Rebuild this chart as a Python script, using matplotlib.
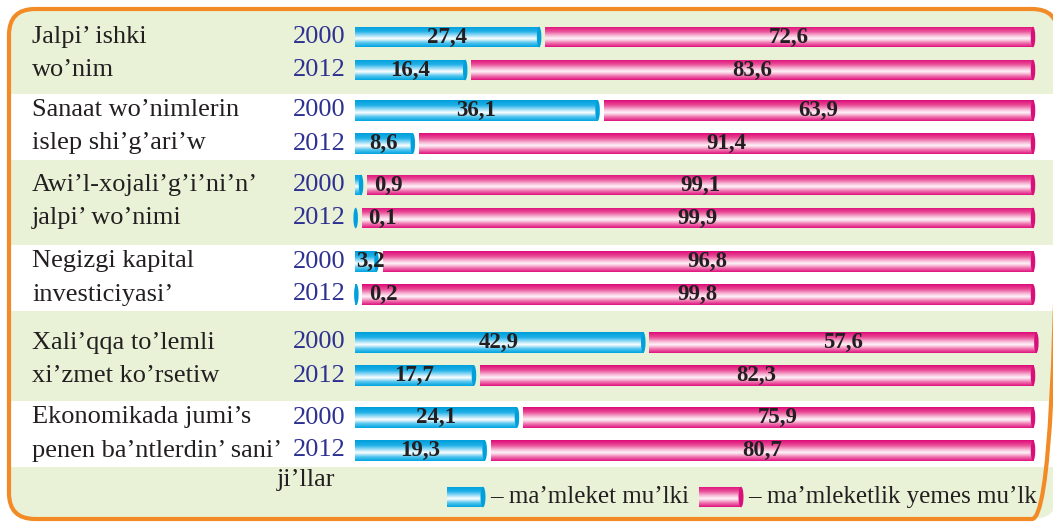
import numpy as np
import matplotlib
matplotlib.use("Agg")
import matplotlib.pyplot as plt
from matplotlib import rcParams
from matplotlib.colors import LinearSegmentedColormap
from matplotlib.patches import FancyBboxPatch, Ellipse, Rectangle

rcParams['font.family'] = ['Liberation Serif', 'DejaVu Serif']

# data
categories = [("Jalpi’ ishki", "wo’nim"),
              ("Sanaat wo’nimlerin", "islep shi’g’ari’w"),
              ("Awi’l-xojali’g’i’ni’n’", "jalpi’ wo’nimi"),
              ("Negizgi kapital", "investiciyasi’"),
              ("Xali’qqa to’lemli", "xi’zmet ko’rsetiw"),
              ("Ekonomikada jumi’s", "penen ba’ntlerdin’ sani’")]
years = ["2000", "2012"]
state_2000 = [27.4, 36.1, 0.9, 3.2, 42.9, 24.1]
state_2012 = [16.4, 8.6, 0.1, 0.2, 17.7, 19.3]
nonstate_2000 = [72.6, 63.9, 99.1, 96.8, 57.6, 75.9]
nonstate_2012 = [83.6, 91.4, 99.9, 99.8, 82.3, 80.7]
legend_labels = ["– ma’mleket mu’lki", "– ma’mleketlik yemes mu’lk"]
axis_note = "ji’llar"

# layout (pixels)
W, H = 1053, 522
row_y = [53.5, 127, 201.5, 278, 359, 434]
dy = 16.5
bar_h = 21
gap = 0.9

green = '#e9f1d6'
orange = '#f28a26'
txt = '#231f20'
year_col = '#2e3192'

blue_cmap = LinearSegmentedColormap.from_list('blue', [
    (0, '#009fdb'), (0.25, '#1fb0e7'), (0.45, '#9fdff7'), (0.6, '#ffffff'),
    (0.8, '#55c6ef'), (1, '#00a4e0')])
pink_cmap = LinearSegmentedColormap.from_list('pink', [
    (0, '#dd0b79'), (0.25, '#ea4f98'), (0.45, '#f7b9d6'), (0.6, '#fff4f9'),
    (0.8, '#f07ab3'), (1, '#df127d')])
grad = np.linspace(0, 1, 64).reshape(-1, 1)


def gradient_bars(ax, y, width, left, cmap, cap_color, cap_w):
    rects = ax.barh(y, width, left=left, height=bar_h, color='none', lw=0)
    for r in rects:
        x0, y0 = r.get_x(), r.get_y()
        x1, y1 = x0 + r.get_width(), y0 + r.get_height()
        im = ax.imshow(grad, cmap=cmap, extent=(x0, x1, y1, y0),
                       aspect='auto', interpolation='bilinear', zorder=2)
        im.set_clip_path(r)
        ax.add_patch(Ellipse((x1, (y0 + y1) / 2), cap_w, bar_h * 0.98,
                             fc=cap_color, ec='none', zorder=2.5, clip_on=False))
    return rects


fig = plt.figure(figsize=(W / 100, H / 100), dpi=100)

# background panel
bg = fig.add_axes([0, 0, 1, 1])
bg.set_xlim(0, W)
bg.set_ylim(H, 0)
bg.axis('off')
bg.add_patch(FancyBboxPatch((9, 9), 1049, 510,
                            boxstyle='round,pad=0,rounding_size=26',
                            fc=green, ec='none', zorder=0))
for i in (1, 3, 5):
    bg.add_patch(Rectangle((10, row_y[i] - 33), 1046, 66, fc='white',
                           ec='none', zorder=0.5))
bg.add_patch(FancyBboxPatch((9, 9), 1049, 510,
                            boxstyle='round,pad=0,rounding_size=26',
                            fc='none', ec=orange, lw=3, zorder=5,
                            clip_on=False))

for i, (l1, l2) in enumerate(categories):
    bg.text(32, row_y[i] - dy, l1, fontsize=19, color=txt, va='center')
    bg.text(32, row_y[i] + dy, l2, fontsize=19, color=txt, va='center')
    bg.text(346, row_y[i] - dy, years[0], fontsize=19, color=year_col,
            ha='right', va='center')
    bg.text(346, row_y[i] + dy, years[1], fontsize=19, color=year_col,
            ha='right', va='center')

bg.text(277, 480, axis_note, fontsize=19, color=txt, va='center')

# legend keys
for (x0, x1), cmap, cap, lab in zip([(447, 483), (699, 741)],
                                    [blue_cmap, pink_cmap],
                                    ['#00a0dc', '#d90f7a'], legend_labels):
    r = Rectangle((x0, 497 - bar_h / 2), x1 - x0, bar_h, fc='none', ec='none')
    bg.add_patch(r)
    im = bg.imshow(grad, cmap=cmap, extent=(x0, x1, 497 + bar_h / 2, 497 - bar_h / 2),
                   aspect='auto', interpolation='bilinear', zorder=2)
    im.set_clip_path(r)
    bg.add_patch(Ellipse((x1, 497), 5, bar_h * 0.98, fc=cap, ec='none', zorder=2.5))
    bg.text(x1 + 7, 497, lab, fontsize=18, color=txt, va='center')
bg.set_xlim(0, W)
bg.set_ylim(H, 0)

# bars
x_left, x_right = 355, 1033
ax = fig.add_axes([x_left / W, 0, (x_right - x_left) / W, 1])
ax.patch.set_alpha(0)
cap_w = 4.5 * 100.9 / (x_right - x_left)

for j, (state, nonstate) in enumerate([(state_2000, nonstate_2000),
                                      (state_2012, nonstate_2012)]):
    ys = [y + (2 * j - 1) * dy for y in row_y]
    state = np.array(state)
    nonstate = np.array(nonstate)
    gradient_bars(ax, ys, state, 0, blue_cmap, '#00a0dc', cap_w)
    gradient_bars(ax, ys, nonstate, state + gap, pink_cmap, '#d90f7a', cap_w)
    for y, b, p in zip(ys, state, nonstate):
        s_lab = f"{b:.1f}".replace('.', ',')
        p_lab = f"{p:.1f}".replace('.', ',')
        if b >= 5:
            ax.text(b / 2, y, s_lab, ha='center', va='center', fontsize=16.5,
                    fontweight='bold', color=txt, zorder=4)
        elif b >= 2:
            ax.text(0.1, y, s_lab, ha='left', va='center', fontsize=16.5,
                    fontweight='bold', color=txt, zorder=4)
        else:
            ax.text(b + gap + 1.0, y, s_lab, ha='left', va='center', fontsize=16.5,
                    fontweight='bold', color=txt, zorder=4)
        ax.text(b + gap + p / 2, y, p_lab, ha='center', va='center', fontsize=16.5,
                fontweight='bold', color=txt, zorder=4)

ax.set_xlim(0, 100.9)
ax.set_ylim(H, 0)
ax.axis('off')

fig.savefig("out.png", dpi=100)
